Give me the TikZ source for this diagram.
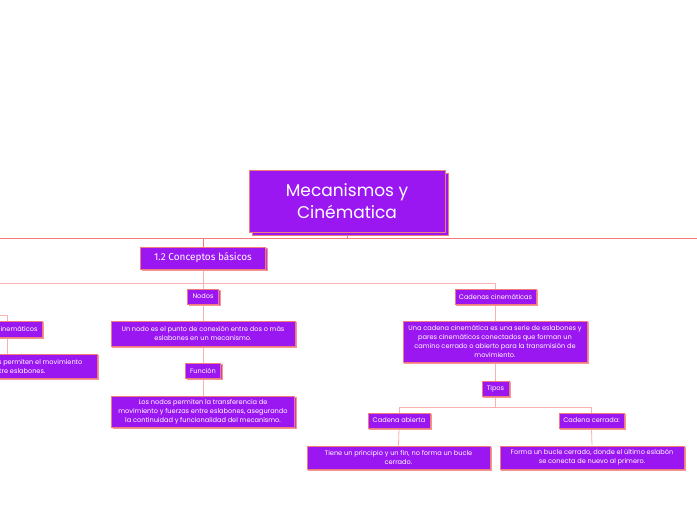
\documentclass[tikz,border=0pt]{standalone}
\usepackage{fontspec}
\setmainfont{Poppins}
\newfontfamily\firafont{Fira Sans}
\usetikzlibrary{shadows,backgrounds}
\definecolor{vio}{HTML}{9B17F2}
\definecolor{coral}{HTML}{F37A7A}
\definecolor{lpink}{HTML}{F8B0B0}
\definecolor{shad}{HTML}{C43FD6}
\begin{document}
\begin{tikzpicture}[x=1pt,y=-1pt,
  box/.style={rectangle, fill=vio, draw=coral, line width=0.7pt, text=white,
    inner sep=0pt, align=center, font=\fontsize{6.6}{9}\selectfont,
    drop shadow={shadow xshift=1.8pt, shadow yshift=-1.8pt, fill=shad, draw=coral!80, opacity=1}},
  sz/.style 2 args={minimum width=#1pt, minimum height=#2pt},
  mainbox/.style={rectangle, fill=vio, draw=coral, line width=1pt, text=white,
    inner sep=0pt, align=center, font=\fontsize{17}{22}\selectfont,
    drop shadow={shadow xshift=3.5pt, shadow yshift=-3.5pt, fill=vio, draw=coral, opacity=1}},
  topline/.style={draw=coral, line width=0.9pt},
  subline/.style={draw=lpink, line width=0.8pt}
]
\useasboundingbox (0,0) rectangle (697,520);

\node[mainbox, sz={196}{62}] (main) at (347,201) {Mecanismos y\\Cinématica};
\node[box, sz={125}{22}, font=\firafont\fontsize{10}{12}\selectfont] (conc) at (203,258) {1.2 Conceptos básicos};

\node[box, sz={31}{15}] (nodos) at (203,296.5) {Nodos};
\node[box, sz={184}{25}] (unnodo) at (203,333.5) {Un nodo es el punto de conexión entre dos o más\\eslabones en un mecanismo.};
\node[box, sz={35}{15}] (funcion) at (203,370.5) {Función};
\node[box, sz={183}{31}] (losnodos) at (203,411.5) {Los nodos permiten la transferencia de\\movimiento y fuerzas entre eslabones, asegurando\\la continuidad y funcionalidad del mecanismo.};

\node[box, sz={81}{15}] (cadenas) at (495.5,296.5) {Cadenas cinemáticas};
\node[box, sz={184}{41}] (unacadena) at (495,341.5) {Una cadena cinemática es una serie de eslabones y\\pares cinemáticos conectados que forman un\\camino cerrado o abierto para la transmisión de\\movimiento.};
\node[box, sz={27}{15}] (tipos) at (495.5,388.5) {Tipos};
\node[box, sz={62}{15}] (abierta) at (399,420.5) {Cadena abierta};
\node[box, sz={65}{15}] (cerrada) at (591.5,420.5) {Cadena cerrada:};
\node[box, sz={183}{23}] (tiene) at (398.5,457.5) {Tiene un principio y un fin, no forma un bucle\\cerrado.};
\node[box, sz={184}{23}] (forma) at (592,457.5) {Forma un bucle cerrado, donde el último eslabón\\se conecta de nuevo al primero.};

\node[box, sz={70}{16}] (pares) at (7,329) {Pares cinemáticos};
\node[box, sz={184}{24}] (paresdesc) at (5,366) {Los pares cinemáticos permiten el movimiento\\relativo entre eslabones.};

\coordinate (mj) at (347,238);
\coordinate (lj) at (-20,238);
\coordinate (rj) at (720,238);
\coordinate (cj) at (203,238);
\coordinate (sj) at (203,283);
\coordinate (slj) at (-20,283);
\coordinate (srj) at (495.5,283);
\coordinate (tj) at (495.5,407);
\coordinate (aj) at (399,407);
\coordinate (bj) at (591.5,407);
\coordinate (pj) at (7,315);
\coordinate (plj) at (-20,315);

\begin{scope}[on background layer]
  \draw[topline] (main.south) -- (mj);
  \draw[topline] (lj) -- (rj);
  \draw[topline] (cj) -- (conc.north);
  \draw[subline] (conc.south) -- (sj);
  \draw[subline] (slj) -- (srj) -- (cadenas.north);
  \draw[subline] (sj) -- (losnodos.north);
  \draw[subline] (cadenas.south) -- (tipos.north);
  \draw[subline] (tipos.south) -- (tj);
  \draw[subline] (abierta.north) -- (aj) -- (bj) -- (cerrada.north);
  \draw[subline] (abierta.south) -- (tiene.north);
  \draw[subline] (cerrada.south) -- (forma.north);
  \draw[subline] (plj) -- (pj) -- (paresdesc.north -| pj);
\end{scope}
\end{tikzpicture}
\end{document}
